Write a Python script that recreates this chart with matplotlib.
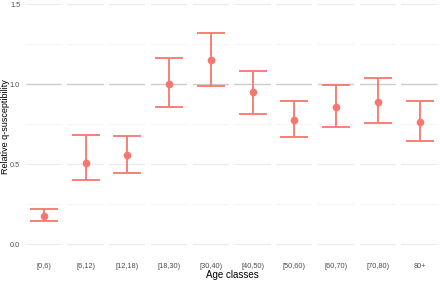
import matplotlib
matplotlib.use("Agg")
import matplotlib.pyplot as plt

plt.rcParams['font.family'] = ['Liberation Sans', 'DejaVu Sans']

# data
age_classes = ["[0,6)", "[6,12)", "[12,18)", "[18,30)", "[30,40)",
               "[40,50)", "[50,60)", "[60,70)", "[70,80)", "80+"]
estimate = [0.178, 0.507, 0.559, 1.0, 1.148, 0.949, 0.776, 0.857, 0.886, 0.762]
lower = [0.145, 0.401, 0.443, 0.859, 0.99, 0.815, 0.668, 0.732, 0.757, 0.645]
upper = [0.222, 0.684, 0.676, 1.163, 1.319, 1.084, 0.896, 0.992, 1.036, 0.896]

col = "#F8766D"
W, H = 440, 282
fig = plt.figure(figsize=(W / 100, H / 100), dpi=100)

# panel geometry in pixels
x0, pw, gap = 25.7, 36.25, 5.5
ylo, yhi = -0.08, 1.52
ptop, pbot = 0.8, 257.1

for i, lab in enumerate(age_classes):
    left = x0 + i * (pw + gap)
    ax = fig.add_axes([left / W, (H - pbot) / H, pw / W, (pbot - ptop) / H])
    ax.set_xlim(-0.6, 0.6)
    ax.set_ylim(ylo, yhi)
    for v in [0.25, 0.75, 1.25]:
        ax.axhline(v, color="#F2F2F2", lw=0.6, zorder=0)
    for v in [0.0, 0.5, 1.5]:
        ax.axhline(v, color="#EBEBEB", lw=0.8, zorder=0)
    ax.axhline(1.0, color="#CCCCCC", lw=1.0, zorder=1)
    ax.errorbar([0], [estimate[i]],
                yerr=[[estimate[i] - lower[i]], [upper[i] - estimate[i]]],
                fmt="o", color=col, ms=4.5, lw=1.3, capsize=10, capthick=1.3,
                zorder=3)
    for s in ax.spines.values():
        s.set_visible(False)
    ax.set_xticks([0])
    ax.set_xticklabels([lab], fontsize=5.3, color="#4D4D4D")
    ax.tick_params(length=0, pad=4)
    if i == 0:
        ax.set_yticks([0.0, 0.5, 1.0, 1.5])
        ax.set_yticklabels(["0.0", "0.5", "1.0", "1.5"], fontsize=5.3, color="#4D4D4D")
    else:
        ax.set_yticks([])

fig.text(5.5 / W, (H - 127) / H, "Relative q-susceptibility", fontsize=6.5,
         rotation=90, ha="center", va="center")
fig.text(232 / W, (H - 275) / H, "Age classes", fontsize=7, ha="center", va="center")

fig.savefig("out.png", dpi=100)
